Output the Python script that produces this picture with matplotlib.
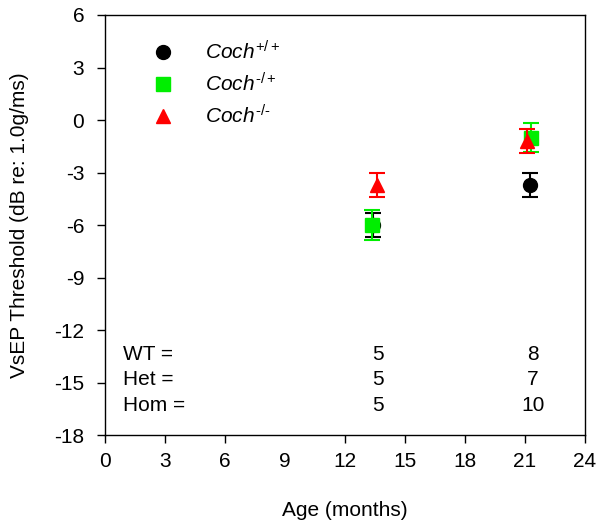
import matplotlib
matplotlib.use("Agg")
from matplotlib import pyplot as plt
from matplotlib.lines import Line2D

plt.rcParams['font.family'] = ['Liberation Sans', 'DejaVu Sans']
plt.rcParams['mathtext.fontset'] = 'custom'
plt.rcParams['mathtext.rm'] = 'Liberation Sans'
plt.rcParams['mathtext.it'] = 'Liberation Sans:italic'
plt.rcParams['axes.unicode_minus'] = False

# wiek (miesiace) i progi VsEP dla genotypow
wt_age = [13.4, 21.25]
wt_thr = [-6.0, -3.7]
wt_err = [0.7, 0.7]

het_age = [13.35, 21.3]
het_thr = [-6.0, -1.0]
het_err = [0.85, 0.85]

hom_age = [13.6, 21.1]
hom_thr = [-3.7, -1.2]
hom_err = [0.7, 0.7]

n_labels = ['WT =', 'Het =', 'Hom =']
n_age = [13.65, 21.4]
n_wt = [5, 8]
n_het = [5, 7]
n_hom = [5, 10]

FS = 15

fig = plt.figure(figsize=(6.01, 5.30), dpi=100)
ax = fig.add_axes([0.1747, 0.1792, 0.7987, 0.7925])

ax.errorbar(wt_age, wt_thr, yerr=wt_err, fmt='o', color='black', ms=10,
            capsize=6, elinewidth=1.5, capthick=1.5, zorder=3)
ax.errorbar(het_age, het_thr, yerr=het_err, fmt='s', color='#00ee00', ms=9.5,
            capsize=6, elinewidth=1.5, capthick=1.5, zorder=4)
ax.errorbar(hom_age, hom_thr, yerr=hom_err, fmt='^', color='#ff0000', ms=10,
            capsize=6, elinewidth=1.5, capthick=1.5, zorder=5)

ax.set_xlim(0, 24)
ax.set_ylim(-18, 6)
ax.set_xticks(range(0, 25, 3))
ax.set_yticks(range(-18, 7, 3))
ax.tick_params(direction='out', length=6, width=1, labelsize=FS)
ax.tick_params(axis='x', pad=6)
ax.tick_params(axis='y', pad=9)
ax.xaxis.get_major_ticks()[3].tick1line.set_visible(False)
for s in ax.spines.values():
    s.set_linewidth(1)

ax.set_xlabel('Age (months)', fontsize=FS, labelpad=22)
ax.set_ylabel('VsEP Threshold (dB re: 1.0g/ms)', fontsize=FS, labelpad=18)

# liczebnosc grup
for i, (lab, nn) in enumerate(zip(n_labels, [n_wt, n_het, n_hom])):
    y = -13.4 - i * 1.45
    ax.text(0.9, y, lab, fontsize=FS, va='center', ha='left')
    for xa, v in zip(n_age, nn):
        ax.text(xa, y, str(v), fontsize=FS, va='center', ha='center')

uchwyty = [
    Line2D([], [], ls='none', marker='o', color='black', ms=10),
    Line2D([], [], ls='none', marker='s', color='#00ee00', ms=9.5),
    Line2D([], [], ls='none', marker='^', color='#ff0000', ms=10),
]
etykiety = [r'$\mathit{Coch}^{+/+}$', '$\\mathit{Coch}^{\u2010/+}$',
            '$\\mathit{Coch}^{\u2010/\u2010}$']
ax.legend(uchwyty, etykiety, loc='upper left', bbox_to_anchor=(0.06, 0.985),
          frameon=False, fontsize=FS, handlelength=1.0, handletextpad=1.5,
          labelspacing=0.42)

fig.savefig('out.png', dpi=100)
